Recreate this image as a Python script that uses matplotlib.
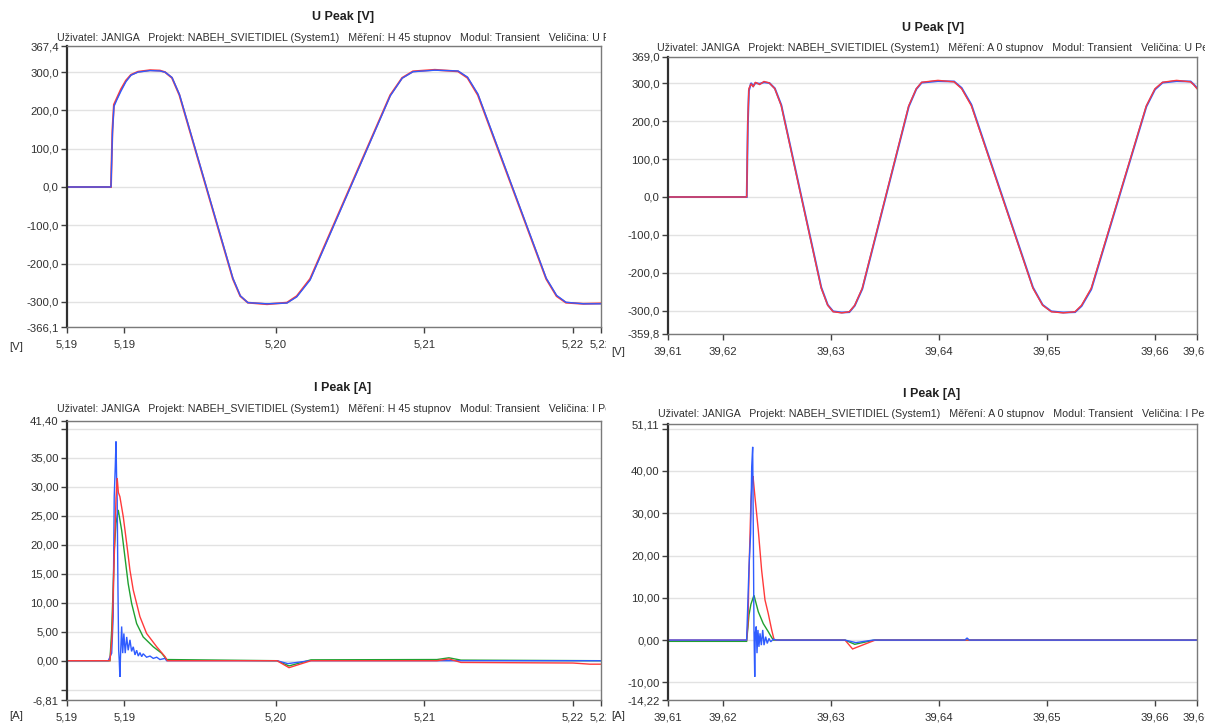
import matplotlib.pyplot as plt
from matplotlib.transforms import Bbox, TransformedBbox

plt.rcParams['font.family'] = ['Liberation Sans', 'DejaVu Sans']

W, H = 1205, 726

RED, GREEN, BLUE = '#ff3a3a', '#20a030', '#2f5cff'

# ---- left column: H 45 stupnov, time = 5.18 s + ms
H45_BASE = 5.18
h45_xlim_ms = [5.93, 41.89]
h45_xticks_ms = [5.93, 9.80, 20.0, 30.0, 40.0, 41.89]

h45_u_ms = [5.93, 8.89, 8.99, 9.09, 9.29, 9.56, 9.90, 10.24, 10.71, 11.52, 12.19, 12.53,
            13.0, 13.5, 17.1, 17.6, 18.11, 19.4, 20.74,
            21.4, 22.3, 27.7, 28.5, 29.23, 30.7, 32.26,
            32.9, 33.6, 38.2, 38.9, 39.53, 40.7, 41.89]
h45_u_red = [0, 0, 150, 215, 232, 255, 278, 293, 301, 305, 304, 300,
             285, 240, -240, -285, -302, -306, -302,
             -285, -240, 240, 285, 302, 306, 302,
             285, 240, -240, -285, -302, -305, -304]
h45_u_blue = [0, 0, 140, 210, 228, 250, 275, 292, 300, 304, 303, 300,
              286, 242, -238, -284, -302, -305, -303,
              -287, -243, 238, 284, 301, 305, 303,
              287, 243, -238, -283, -301, -305, -305]
h45_u_ylim = [-366.1, 367.4]
h45_u_yticks = [367.4, 300, 200, 100, 0, -100, -200, -300, -366.1]

h45_i_red_ms = [5.93, 8.82, 8.96, 9.09, 9.23, 9.31, 9.39, 9.49, 9.72, 9.95, 10.17, 10.39,
                10.84, 11.29, 11.97, 12.53, 12.69, 20.07, 20.88, 22.36, 30.84, 31.65,
                32.46, 40.0, 41.15, 41.89]
h45_i_red = [0, 0, 4, 16, 28, 31.5, 29, 28.3, 24.8, 20.2, 15.6, 12.2,
             7.6, 4.7, 2.4, 0.7, 0, 0, -1.2, 0, 0, 0.3,
             -0.3, -0.4, -0.6, -0.6]
h45_i_green_ms = [5.93, 8.82, 8.94, 9.04, 9.11, 9.23, 9.38, 9.61, 9.83, 10.05, 10.28, 10.62,
                  11.06, 11.74, 12.30, 12.64, 20.07, 20.88, 22.36, 30.84, 31.65, 32.46, 41.89]
h45_i_green = [0, 0, 5.3, 12.8, 19, 23.7, 26, 22.5, 17.9, 13.3, 9.9, 6.4,
               4.1, 2.4, 1.3, 0.2, 0, -0.9, 0.15, 0.2, 0.5, 0.1, 0]
h45_i_blue_ms = [5.93, 8.71, 8.94, 9.04, 9.11, 9.18, 9.23, 9.27, 9.31, 9.36, 9.41, 9.45, 9.49,
                 9.54, 9.61, 9.68, 9.76, 9.85, 9.95, 10.05, 10.17, 10.28, 10.39, 10.51,
                 10.62, 10.73, 10.84, 10.96, 11.06, 11.29, 11.52, 11.74, 11.97, 12.19,
                 12.53, 12.64, 20.07, 20.8, 22.3, 41.89]
h45_i_blue = [0, 0, 1.3, 7.6, 28.3, 33.4, 37.8, 31.7, 27.7, 12.8, 1.8, 0, -2.8,
              1.3, 5.9, 1.3, 4.7, 1.3, 4.1, 1.8, 3.6, 1.6, 2.4, 1.0,
              1.8, 0.8, 1.4, 0.7, 1.2, 0.6, 0.8, 0.4, 0.6, 0.2,
              0.4, 0, 0, -0.5, 0, 0]
h45_i_ylim = [-6.81, 41.40]
h45_i_yticks = [41.40, 40, 35, 30, 25, 20, 15, 10, 5, 0, -5, -6.81]
h45_i_ylabels = ['41,40', '', '35,00', '30,00', '25,00', '20,00', '15,00', '10,00', '5,00',
                 '0,00', '', '-6,81']

# ---- right column: A 0 stupnov, time = 39.61 s + ms
A0_BASE = 39.61
a0_xlim_ms = [4.91, 53.89]
a0_xticks_ms = [4.91, 10, 20, 30, 40, 50, 53.89]

a0_u_ms = [4.91, 12.20, 12.30, 12.40, 12.60, 12.80, 13.00, 13.40, 13.80, 14.30,
           14.80, 15.40, 19.10, 19.70, 20.20, 21.00, 21.70,
           22.20, 22.90, 27.20, 27.90, 28.40, 29.90, 31.40,
           32.10, 33.00, 38.70, 39.60, 40.40, 41.50, 42.60,
           43.20, 44.10, 49.20, 50.00, 50.70, 52.00, 53.30, 53.60, 53.89]
a0_u_red = [0, 0, 200, 285, 298, 290, 302, 296, 304, 300,
            285, 240, -240, -285, -302, -305, -302,
            -285, -240, 240, 285, 302, 307, 303,
            285, 240, -240, -285, -302, -305, -302,
            -285, -240, 240, 285, 302, 307, 303, 295, 285]
a0_u_blue = [0, 0, 190, 280, 300, 292, 300, 298, 302, 300,
             286, 242, -238, -284, -301, -304, -303,
             -286, -242, 238, 284, 301, 305, 304,
             287, 243, -238, -284, -301, -304, -303,
             -287, -243, 238, 283, 301, 305, 304, 296, 287]
a0_u_ylim = [-359.8, 369.0]
a0_u_yticks = [369.0, 300, 200, 100, 0, -100, -200, -300, -359.8]

a0_i_red_ms = [4.91, 12.19, 12.31, 12.45, 12.59, 12.71, 12.78, 12.96, 13.27, 13.58, 13.89,
               14.19, 14.51, 14.72, 14.91, 21.3, 22.0, 24.1, 53.89]
a0_i_red = [0, 0, 4, 20, 33, 37.8, 38.8, 33.9, 26, 16.5, 9.5,
            6.3, 2.4, 0.2, 0, 0, -2.1, 0, 0]
a0_i_green_ms = [4.91, 12.19, 12.31, 12.41, 12.59, 12.87, 13.27, 13.73, 14.19, 14.51, 14.68,
                 21.3, 22.2, 24.0, 53.89]
a0_i_green = [-0.3, -0.3, 3, 6, 8.5, 10.6, 6.7, 3.9, 2.0, 0.6, 0,
              0, -1.0, 0, 0]
a0_i_blue_ms = [4.91, 12.19, 12.41, 12.56, 12.66, 12.75, 12.81, 12.87, 12.94, 12.99, 13.08,
                13.15, 13.24, 13.33, 13.43, 13.55, 13.68, 13.80, 13.95, 14.10, 14.26,
                14.42, 14.66, 14.97, 21.3, 22.3, 23.9, 32.4, 32.6, 32.8, 53.89]
a0_i_blue = [0, 0, 17.3, 25.2, 41, 45.7, 25.2, 2.4, -8.7, 1.6, 3.2,
             -3.1, 2.4, -1.6, 1.6, -1.2, 2.4, -1.2, 0.8, -0.8, 0.4,
             -0.4, 0.2, 0, 0, -0.6, 0, 0, 0.5, 0, 0]
a0_i_ylim = [-14.22, 51.11]
a0_i_yticks = [51.11, 50, 40, 30, 20, 10, 0, -10, -14.22]
a0_i_ylabels = ['51,11', '', '40,00', '30,00', '20,00', '10,00', '0,00', '-10,00', '-14,22']

SUB = ('Uživatel: JANIGA   Projekt: NABEH_SVIETIDIEL (System1)   Měření: {}   '
       'Modul: Transient   Veličina: {}')

fig = plt.figure(figsize=(W / 100, H / 100), dpi=100)


def sec(base, ms_list):
    return [base + m / 1000.0 for m in ms_list]


def fmt(v, nd):
    return ('%.*f' % (nd, v)).replace('.', ',')


def clipbox(x1_px):
    return TransformedBbox(Bbox.from_extents(0, 0, x1_px / W, 1), fig.transFigure)


def panel(box, base, xlim_ms, xticks_ms, ylim, yticks, ylabels, series,
          title, title_xy, sub, sub_xy, unit, unit_xy, clip_x):
    l, t, r, b = box
    ax = fig.add_axes([l / W, 1 - b / H, (r - l) / W, (b - t) / H])
    for ms, vals, col, lw in series:
        ax.plot(sec(base, ms), vals, color=col, lw=lw, solid_joinstyle='miter')
    ax.set_xlim(sec(base, xlim_ms))
    ax.set_ylim(ylim)
    xt = sec(base, xticks_ms)
    ax.set_xticks(xt)
    ax.set_xticklabels([fmt(v, 2) for v in xt])
    ax.set_yticks(yticks)
    ax.set_yticklabels(ylabels)
    ax.grid(axis='y', color='#e2e2e2', lw=1.0)
    ax.set_axisbelow(True)
    ax.tick_params(axis='both', length=4, width=1, color='#404040',
                   labelsize=8.2, labelcolor='#303030', pad=2)
    ax.tick_params(axis='x', pad=5)
    for side in ['top', 'right', 'bottom']:
        ax.spines[side].set_color('#7a7a7a')
        ax.spines[side].set_linewidth(1.0)
    ax.spines['left'].set_color('#303030')
    ax.spines['left'].set_linewidth(1.6)
    if clip_x is not None:
        for lbl in ax.get_xticklabels():
            lbl.set_clip_box(clipbox(clip_x))
            lbl.set_clip_on(True)
    fig.text(title_xy[0] / W, 1 - title_xy[1] / H, title, ha='center', va='center',
             fontsize=9, fontweight='bold', color='#202020')
    st = fig.text(sub_xy[0] / W, 1 - sub_xy[1] / H, sub, ha='left', va='center',
                  fontsize=7.7, color='#303030')
    if clip_x is not None:
        st.set_clip_box(clipbox(clip_x))
        st.set_clip_on(True)
    fig.text(unit_xy[0] / W, 1 - unit_xy[1] / H, unit, ha='center', va='center',
             fontsize=8.2, color='#303030')
    return ax


# top left: U Peak, H 45
panel((67, 46.3, 601, 327.2), H45_BASE, h45_xlim_ms, h45_xticks_ms, h45_u_ylim,
      h45_u_yticks, [fmt(v, 1) for v in h45_u_yticks],
      [(h45_u_ms, h45_u_red, RED, 1.4), (h45_u_ms, h45_u_blue, BLUE, 1.0)],
      'U Peak [V]', (343, 17), SUB.format('H 45 stupnov', 'U Peak'), (57, 38),
      '[V]', (16, 347), 606)

# top right: U Peak, A 0
panel((668, 56.8, 1197, 333.7), A0_BASE, a0_xlim_ms, a0_xticks_ms, a0_u_ylim,
      a0_u_yticks, [fmt(v, 1) for v in a0_u_yticks],
      [(a0_u_ms, a0_u_blue, BLUE, 1.4), (a0_u_ms, a0_u_red, RED, 1.0)],
      'U Peak [V]', (933, 28), SUB.format('A 0 stupnov', 'U Peak'), (657, 48),
      '[V]', (618, 352), None)

# bottom left: I Peak, H 45
panel((67, 420.6, 601, 700.2), H45_BASE, h45_xlim_ms, h45_xticks_ms, h45_i_ylim,
      h45_i_yticks, h45_i_ylabels,
      [(h45_i_green_ms, h45_i_green, GREEN, 1.0), (h45_i_blue_ms, h45_i_blue, BLUE, 1.0),
       (h45_i_red_ms, h45_i_red, RED, 1.0)],
      'I Peak [A]', (343, 388), SUB.format('H 45 stupnov', 'I Peak'), (57, 409),
      '[A]', (16, 716), 606)

# bottom right: I Peak, A 0
panel((668, 424.0, 1197, 700.2), A0_BASE, a0_xlim_ms, a0_xticks_ms, a0_i_ylim,
      a0_i_yticks, a0_i_ylabels,
      [(a0_i_green_ms, a0_i_green, GREEN, 1.0), (a0_i_red_ms, a0_i_red, RED, 1.0),
       (a0_i_blue_ms, a0_i_blue, BLUE, 1.0)],
      'I Peak [A]', (932, 394), SUB.format('A 0 stupnov', 'I Peak'), (658, 414),
      '[A]', (618, 716), None)

fig.savefig('out.png', dpi=100)
